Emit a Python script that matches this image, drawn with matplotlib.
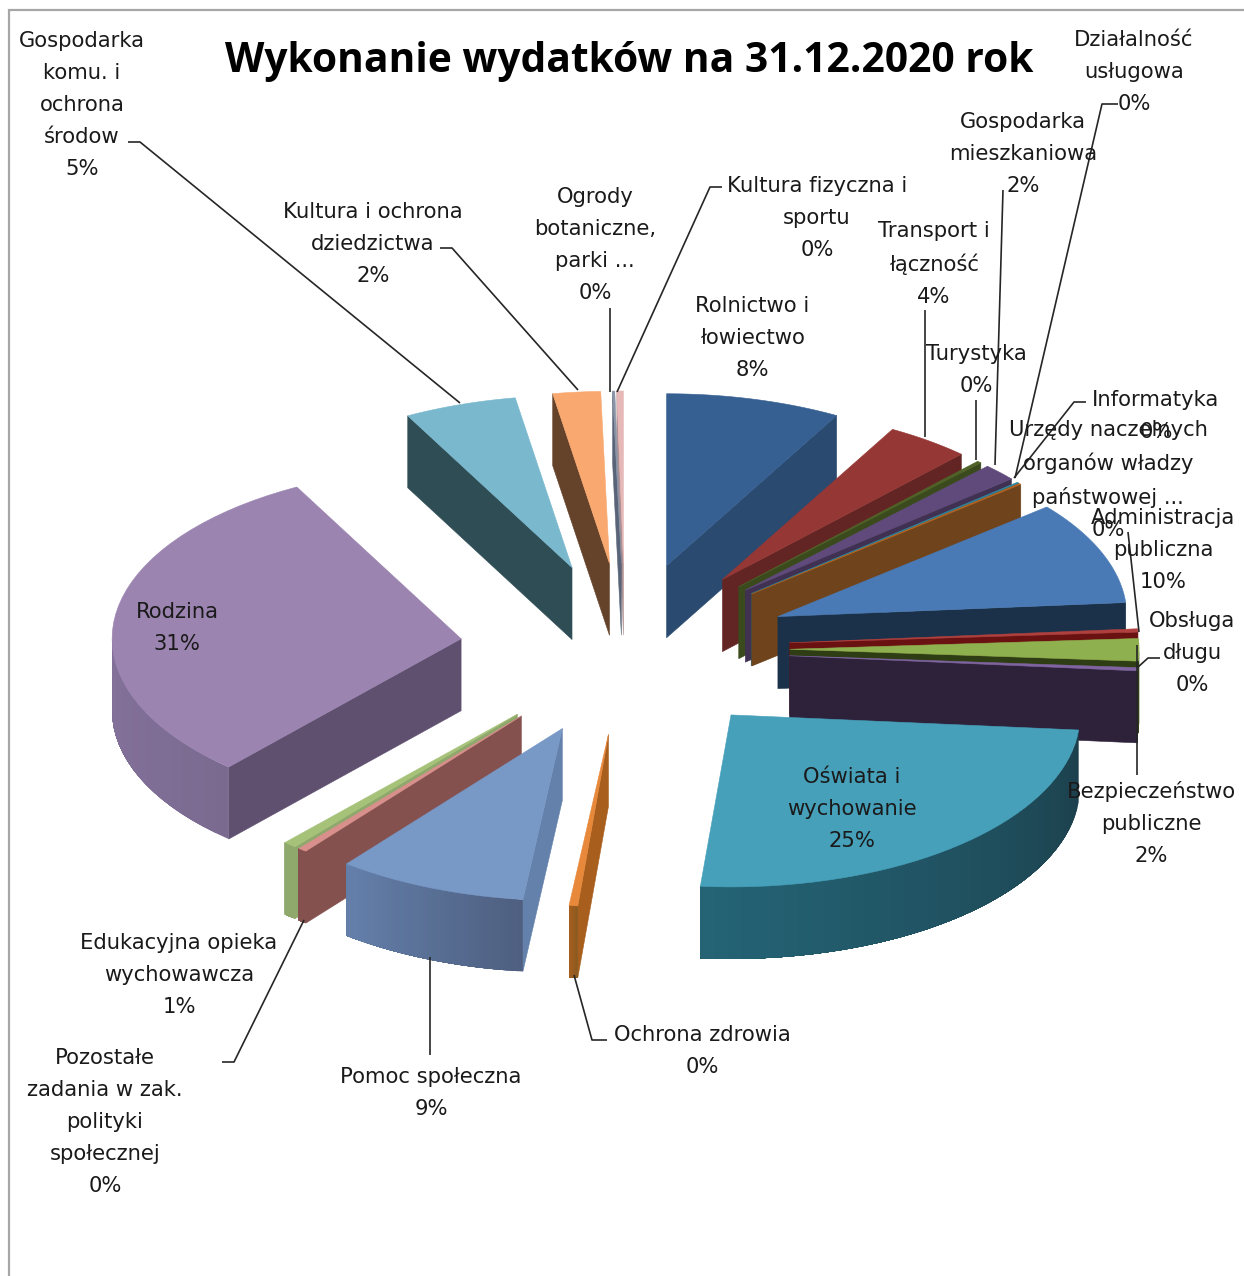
import numpy as np
import matplotlib
matplotlib.use("Agg")
import matplotlib.pyplot as plt
from matplotlib.patches import Polygon
from matplotlib.colors import to_rgb

# ---- data (percent of total, clockwise from 12 o'clock) ----
names = ["Rolnictwo i\nłowiectwo", "Transport i\nłączność", "Turystyka",
         "Gospodarka\nmieszkaniowa", "Działalność\nusługowa", "Informatyka",
         "Administracja\npubliczna", "Urzędy naczelnych\norganów władzy\npaństwowej ...",
         "Bezpieczeństwo\npubliczne", "Obsługa\ndługu", "Oświata i\nwychowanie",
         "Ochrona zdrowia", "Pomoc społeczna",
         "Pozostałe\nzadania w zak.\npolityki\nspołecznej",
         "Edukacyjna opieka\nwychowawcza", "Rodzina",
         "Gospodarka\nkomu. i\nochrona\nśrodow", "Kultura i ochrona\ndziedzictwa",
         "Ogrody\nbotaniczne,\nparki ...", "Kultura fizyczna i\nsportu"]
values = [8.1, 3.9, 0.2, 1.6, 0.1, 0.1, 9.7, 0.3, 2.1, 0.3, 25.0, 0.4, 8.8, 0.4,
          0.6, 30.6, 5.2, 2.2, 0.1, 0.3]
title = "Wykonanie wydatków na 31.12.2020 rok"

# ---- styles ----
top_col = ["#376092", "#953735", "#4F6228", "#604A7B", "#31859C", "#B8651F",
           "#4A7AB5", "#B0403D", "#8FB04E", "#8064A2", "#46A0BA", "#E8883A",
           "#7898C6", "#D98F8C", "#A5C278", "#9B84B0", "#7AB8CE", "#F9A870",
           "#8A94A8", "#E6B9B8"]
radial_col = ["#2A4A70", "#632523", "#3A4A1C", "#403152", "#1E5566", "#6F431C",
              "#1B3149", "#6A1212", "#2F3D15", "#2E223B", "#1C3F4B", "#A85F1E",
              "#6481AC", "#84514F", "#8FA86C", "#5F5070", "#2F4D55", "#65422A",
              "#5A6478", "#B09090"]
# outer wall colour at (start, end) of the arc
outer_col = {10: ("#1C3F4B", "#246476"), 12: ("#4E5F80", "#6480AB"),
             15: ("#7B6A90", "#8F7CA9"), 11: ("#8A5A20", "#A85F1E"),
             13: ("#84514F", "#84514F"), 14: ("#8FA86C", "#8FA86C")}

# ---- pie geometry (pixels) ----
CX, CY, RX, RY, H, EXPL_X, EXPL_Y = 625.0, 649.0, 349.0, 172.0, 72.0, 0.473, 0.5

fig = plt.figure(figsize=(12.44, 12.76), dpi=100)
ax = fig.add_axes([0, 0, 1, 1])
ax.set_xlim(0, 1244)
ax.set_ylim(1276, 0)
ax.axis("off")

def project(theta, r, ox, oy, dz=0.0):
    return (ox + RX * r * np.sin(theta), oy - RY * r * np.cos(theta) + dz)

def poly(pts, color, z):
    ax.add_patch(Polygon(pts, closed=True, facecolor=color, edgecolor=color,
                         lw=0.4, zorder=z, joinstyle="round"))

def strip(pts, color, z):
    ax.add_patch(Polygon(pts, closed=True, facecolor=color, edgecolor="none",
                         lw=0, zorder=z))

vals = np.array(values, float)
edges = np.concatenate([[0], np.cumsum(vals) / vals.sum() * 2 * np.pi])
wedges = []
for i in range(len(vals)):
    a, b = edges[i], edges[i + 1]
    mid = (a + b) / 2
    ox = CX + EXPL_X * RX * np.sin(mid)
    oy = CY - EXPL_Y * RY * np.cos(mid)
    cy_top = oy - 0.6 * RY * np.cos(mid)
    wedges.append((cy_top, i, a, b, ox, oy))
wedges.sort(key=lambda w: w[0])

z = 2.0
for _, i, a, b, ox, oy in wedges:
    apex = project(0, 0, ox, oy)
    apex_d = project(0, 0, ox, oy, H)
    pa, pb = project(a, 1, ox, oy), project(b, 1, ox, oy)
    pad, pbd = project(a, 1, ox, oy, H), project(b, 1, ox, oy, H)
    # radial walls
    if np.sin(a) < 0:
        poly([apex, pa, pad, apex_d], radial_col[i], z); z += 0.01
    if np.sin(b) > 0:
        poly([apex, pb, pbd, apex_d], radial_col[i], z); z += 0.01
    # outer wall: only its front part, overlapping shaded strips so no seams show
    t = np.linspace(a, b, 40)
    c0, c1 = outer_col.get(i, (radial_col[i], radial_col[i]))
    c0, c1 = np.array(to_rgb(c0)), np.array(to_rgb(c1))
    for k in range(len(t) - 1):
        if np.cos((t[k] + t[k + 1]) / 2) < 0:
            f = (k + 0.5) / (len(t) - 1)
            arc = np.linspace(t[k], t[-1], max(len(t) - k, 2))
            arc = arc[np.cos(arc) < 0.02] if np.any(np.cos(arc) < 0.02) else arc
            pts = [project(v, 1, ox, oy) for v in arc] + \
                  [project(v, 1, ox, oy, H) for v in arc[::-1]]
            strip(pts, tuple(c0 + (c1 - c0) * f), z)
            z += 0.0001
    z += 0.01
    # top face
    xy = [apex] + [project(v, 1, ox, oy) for v in t]
    poly(xy, top_col[i], z); z += 0.01

# ---- leader lines (pixel layout) ----
leaders = [
    [(128, 142), (140, 142), (460, 403)],
    [(440, 248), (452, 248), (578, 390)],
    [(610, 308), (610, 392)],
    [(722, 187), (710, 187), (617, 392)],
    [(925, 310), (925, 437)],
    [(976, 400), (976, 460)],
    [(1003, 190), (995, 465)],
    [(1118, 104), (1102, 104), (1015, 478)],
    [(1086, 402), (1074, 402), (1014, 478)],
    [(1128, 532), (1139, 632)],
    [(1160, 658), (1148, 658), (1137, 668)],
    [(1137, 775), (1137, 645)],
    [(607, 1040), (592, 1040), (574, 975)],
    [(430, 1055), (430, 957)],
    [(222, 1062), (234, 1062), (304, 920)],
]
for seg in leaders:
    xs, ys = zip(*seg)
    ax.plot(xs, ys, color="#262626", lw=1.2, zorder=50, solid_capstyle="butt")

# ---- labels ----
label_pos = [(752, 338), (934, 264), (976, 370), (1023, 154), (1134, 72), (1156, 416),
             (1163, 550), (1108, 480), (1151, 823), (1192, 653), (852, 809), (702, 1051),
             (431, 1093), (105, 1122), (179, 975), (177, 628), (82, 105), (373, 244),
             (595, 245), (817, 218)]
for name, v, (x, y) in zip(names, values, label_pos):
    ax.text(x, y, f"{name}\n{round(v)}%", ha="center", va="center", fontsize=15.2,
            family="DejaVu Sans", color="#1a1a1a", linespacing=1.75, zorder=60)

ax.text(629, 62, title, ha="center", va="center", fontsize=29.3, fontweight="bold",
        family="Open Sans", color="black", zorder=60)

# ---- picture frame ----
ax.plot([9, 9, 1244], [1276, 10, 10], color="#a6a6a6", lw=1.6, zorder=70,
        solid_joinstyle="miter")

fig.savefig("out.png", dpi=100)
